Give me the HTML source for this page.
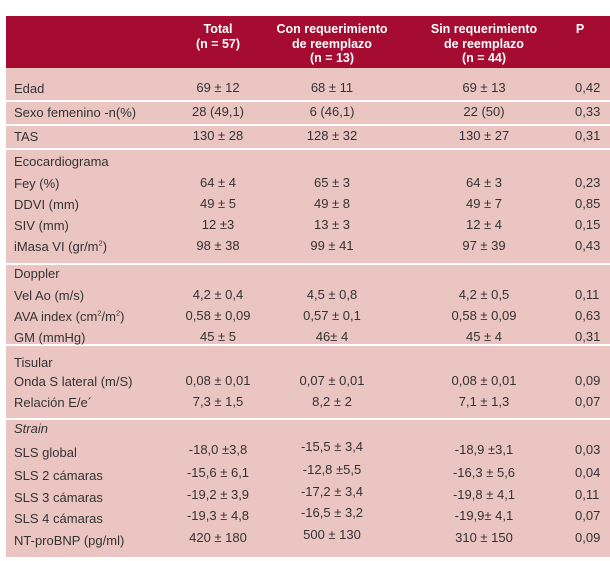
<!DOCTYPE html>
<html><head><meta charset="utf-8"><style>
body{margin:0;width:610px;height:561px;background:#fff;position:relative;overflow:hidden;font-family:"Liberation Sans",sans-serif;font-size:13px;color:#333}
.hd{position:absolute;left:6px;top:16px;width:604px;height:52px;background:#a60c32}
.bd{position:absolute;left:6px;top:68px;width:604px;height:489px;background:#ebc5c1}
.sep{position:absolute;left:6px;width:604px;height:2px;background:#fff}
.h{position:absolute;color:#fff;font-weight:bold;font-size:12.5px;line-height:14.5px;text-align:center;width:170px}
.r{position:absolute;left:0;width:610px;height:14px;line-height:14px}
.r span{position:absolute;white-space:nowrap}
.l{left:14px}
.a,.b,.c{width:140px;text-align:center;top:-1px}
.a{left:148px}.b{left:262px}.c{left:414px}
.p{left:575px;top:-1px}
sup{font-size:7.5px;line-height:0}
</style></head><body>
<div class="hd"></div><div class="bd"></div>
<div class="h" style="left:133px;top:22px">Total<br>(n = 57)</div>
<div class="h" style="left:247px;top:22px">Con requerimiento<br>de reemplazo<br>(n = 13)</div>
<div class="h" style="left:399px;top:22px">Sin requerimiento<br>de reemplazo<br>(n = 44)</div>
<div class="h" style="left:570px;top:22px;width:20px">P</div>
<div class="sep" style="top:100px"></div>
<div class="sep" style="top:124px"></div>
<div class="sep" style="top:148px"></div>
<div class="sep" style="top:263px"></div>
<div class="sep" style="top:344px"></div>
<div class="sep" style="top:418px"></div>

<div class="r" style="top:82px"><span class="l">Edad</span><span class="a">69 ± 12</span><span class="b">68 ± 11</span><span class="c">69 ± 13</span><span class="p">0,42</span></div>
<div class="r" style="top:106px"><span class="l">Sexo femenino -n(%)</span><span class="a">28 (49,1)</span><span class="b">6 (46,1)</span><span class="c">22 (50)</span><span class="p">0,33</span></div>
<div class="r" style="top:130px"><span class="l">TAS</span><span class="a">130 ± 28</span><span class="b">128 ± 32</span><span class="c">130 ± 27</span><span class="p">0,31</span></div>
<div class="r" style="top:155px"><span class="l">Ecocardiograma</span></div>
<div class="r" style="top:177px"><span class="l">Fey (%)</span><span class="a">64 ± 4</span><span class="b">65 ± 3</span><span class="c">64 ± 3</span><span class="p">0,23</span></div>
<div class="r" style="top:198px"><span class="l">DDVI (mm)</span><span class="a">49 ± 5</span><span class="b">49 ± 8</span><span class="c">49 ± 7</span><span class="p">0,85</span></div>
<div class="r" style="top:219px"><span class="l">SIV (mm)</span><span class="a">12 ±3</span><span class="b">13 ± 3</span><span class="c">12 ± 4</span><span class="p">0,15</span></div>
<div class="r" style="top:240px"><span class="l">iMasa VI (gr/m<sup>2</sup>)</span><span class="a">98 ± 38</span><span class="b">99 ± 41</span><span class="c">97 ± 39</span><span class="p">0,43</span></div>
<div class="r" style="top:267px"><span class="l">Doppler</span></div>
<div class="r" style="top:289px"><span class="l">Vel Ao (m/s)</span><span class="a">4,2 ± 0,4</span><span class="b">4,5 ± 0,8</span><span class="c">4,2 ± 0,5</span><span class="p">0,11</span></div>
<div class="r" style="top:310px"><span class="l">AVA index (cm<sup>2</sup>/m<sup>2</sup>)</span><span class="a">0,58 ± 0,09</span><span class="b">0,57 ± 0,1</span><span class="c">0,58 ± 0,09</span><span class="p">0,63</span></div>
<div class="r" style="top:331px"><span class="l">GM (mmHg)</span><span class="a">45 ± 5</span><span class="b">46± 4</span><span class="c">45 ± 4</span><span class="p">0,31</span></div>
<div class="r" style="top:356px"><span class="l">Tisular</span></div>
<div class="r" style="top:375px"><span class="l">Onda S lateral (m/S)</span><span class="a">0,08 ± 0,01</span><span class="b">0,07 ± 0,01</span><span class="c">0,08 ± 0,01</span><span class="p">0,09</span></div>
<div class="r" style="top:396px"><span class="l">Relación E/e´</span><span class="a">7,3 ± 1,5</span><span class="b">8,2 ± 2</span><span class="c">7,1 ± 1,3</span><span class="p">0,07</span></div>
<div class="r" style="top:422px"><span class="l" style="font-style:italic">Strain</span></div>
<div class="r" style="top:446px"><span class="l">SLS global</span><span class="a" style="top:-3px">-18,0 ±3,8</span><span class="b" style="top:-6px">-15,5 ± 3,4</span><span class="c" style="top:-3px">-18,9 ±3,1</span><span class="p" style="top:-3px">0,03</span></div>
<div class="r" style="top:469px"><span class="l">SLS 2 cámaras</span><span class="a" style="top:-3px">-15,6 ± 6,1</span><span class="b" style="top:-6px">-12,8 ±5,5</span><span class="c" style="top:-3px">-16,3 ± 5,6</span><span class="p" style="top:-3px">0,04</span></div>
<div class="r" style="top:491px"><span class="l">SLS 3 cámaras</span><span class="a" style="top:-3px">-19,2 ± 3,9</span><span class="b" style="top:-6px">-17,2 ± 3,4</span><span class="c" style="top:-3px">-19,8 ± 4,1</span><span class="p" style="top:-3px">0,11</span></div>
<div class="r" style="top:512px"><span class="l">SLS 4 cámaras</span><span class="a" style="top:-3px">-19,3 ± 4,8</span><span class="b" style="top:-6px">-16,5 ± 3,2</span><span class="c" style="top:-3px">-19,9± 4,1</span><span class="p" style="top:-3px">0,07</span></div>
<div class="r" style="top:534px"><span class="l">NT-proBNP (pg/ml)</span><span class="a" style="top:-3px">420 ± 180</span><span class="b" style="top:-6px">500 ± 130</span><span class="c" style="top:-3px">310 ± 150</span><span class="p" style="top:-3px">0,09</span></div>
</body></html>
